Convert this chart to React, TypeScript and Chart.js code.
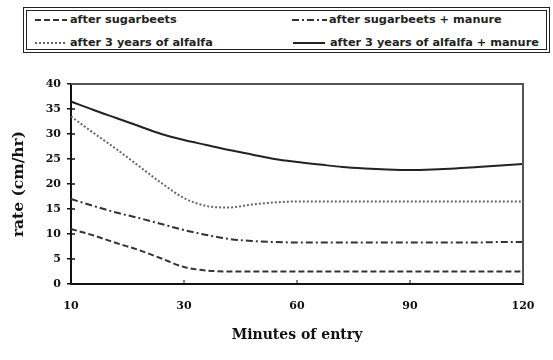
import { useEffect, useRef } from "react";
import { Chart, registerables } from "chart.js";

Chart.register(...registerables);

// Minutes of entry (category positions; majors labelled)
const minutes = [10, 14, 18, 22, 26, 30, 36, 42, 48, 54, 60, 66, 72, 78, 84, 90, 96, 102, 108, 114, 120];
const majorTicks = [10, 30, 60, 90, 120];

const seriesNames = [
  "after sugarbeets",
  "after sugarbeets + manure",
  "after 3 years of alfalfa",
  "after 3 years of alfalfa + manure",
];

const afterSugarbeets = [11, 9.7, 8.2, 6.8, 5.1, 3.4, 2.7, 2.5, 2.5, 2.5, 2.5, 2.5, 2.5, 2.5, 2.5, 2.5, 2.5, 2.5, 2.5, 2.5, 2.5];
const afterSugarbeetsManure = [17, 15.6, 14.3, 13.2, 12, 10.8, 9.8, 9.0, 8.6, 8.4, 8.3, 8.3, 8.3, 8.3, 8.3, 8.3, 8.3, 8.3, 8.3, 8.4, 8.4];
const afterAlfalfa = [33.5, 30.2, 27.0, 23.6, 20.2, 17.2, 15.6, 15.3, 15.9, 16.3, 16.5, 16.5, 16.5, 16.5, 16.5, 16.5, 16.5, 16.5, 16.5, 16.5, 16.5];
const afterAlfalfaManure = [36.5, 34.8, 33.2, 31.6, 30.0, 28.8, 27.8, 26.8, 25.9, 25.0, 24.4, 23.9, 23.4, 23.1, 22.9, 22.8, 22.9, 23.1, 23.4, 23.7, 24.0];

const yMin = 0;
const yMax = 40;
const yStep = 5;

const dashes: number[][] = [[6, 3], [7, 3, 2, 3], [2, 2], []];
const colors = ["#333", "#333", "#666", "#222"];

const framePlugin = {
  id: "frame",
  afterDraw(chart: any) {
    const { ctx, chartArea, scales } = chart;
    const { left, right, top, bottom } = chartArea;
    ctx.save();
    ctx.strokeStyle = "#555";
    ctx.lineWidth = 2;
    ctx.beginPath();
    ctx.moveTo(left, top);
    ctx.lineTo(right, top);
    ctx.lineTo(right, bottom);
    ctx.stroke();
    // inner y ticks
    ctx.strokeStyle = "#111";
    ctx.lineWidth = 1.5;
    for (let v = yMin + yStep; v < yMax; v += yStep) {
      const y = scales.y.getPixelForValue(v);
      ctx.beginPath();
      ctx.moveTo(left, y);
      ctx.lineTo(left + 4, y);
      ctx.stroke();
    }
    // inner x ticks
    ctx.lineWidth = 1;
    majorTicks.slice(1, -1).forEach((m) => {
      const idx = minutes.indexOf(m);
      const x = scales.x.getPixelForValue(idx);
      ctx.beginPath();
      ctx.moveTo(x, bottom);
      ctx.lineTo(x, bottom - 4);
      ctx.stroke();
    });
    ctx.restore();
  },
};

function LegendSample({ dash, color, width }: { dash: number[]; color: string; width: number }) {
  return (
    <svg width={width} height={6} style={{ display: "block" }}>
      <line
        x1={0}
        y1={3}
        x2={width}
        y2={3}
        stroke={color}
        strokeWidth={2}
        strokeDasharray={dash.length ? dash.join(" ") : undefined}
      />
    </svg>
  );
}

export default function App() {
  const canvasRef = useRef<HTMLCanvasElement | null>(null);

  useEffect(() => {
    if (!canvasRef.current) return;
    const data = [afterSugarbeets, afterSugarbeetsManure, afterAlfalfa, afterAlfalfaManure];
    const chart = new Chart(canvasRef.current, {
      type: "line",
      data: {
        labels: minutes.map(String),
        datasets: data.map((d, i) => ({
          label: seriesNames[i],
          data: d,
          borderColor: colors[i],
          borderWidth: 2,
          borderDash: dashes[i],
          pointRadius: 0,
          fill: false,
          cubicInterpolationMode: "monotone" as const,
        })),
      },
      options: {
        animation: false,
        responsive: false,
        devicePixelRatio: 1,
        layout: { padding: { top: 84, right: 30, left: 0, bottom: 0 } },
        plugins: { legend: { display: false }, tooltip: { enabled: false } },
        scales: {
          x: {
            type: "category",
            offset: false,
            grid: { display: true, drawOnChartArea: false, drawTicks: false },
            border: { display: true, color: "#111", width: 2 },
            ticks: {
              autoSkip: false,
              maxRotation: 0,
              padding: 16,
              color: "#111",
              font: { family: "DejaVu Serif", size: 11, weight: "bold" },
              callback: (_v: any, i: number) => (majorTicks.includes(minutes[i]) ? String(minutes[i]) : ""),
            },
            title: {
              display: true,
              text: "Minutes of entry",
              color: "#111",
              font: { family: "DejaVu Serif", size: 14, weight: "bold" },
              padding: { top: 0, bottom: 16 },
            },
            afterFit: (scale: any) => {
              scale.height = 76;
            },
          },
          y: {
            min: yMin,
            max: yMax,
            grid: { display: true, drawOnChartArea: false, tickLength: 4, color: "#111", lineWidth: 1.5 },
            border: { display: true, color: "#111", width: 2 },
            ticks: {
              stepSize: yStep,
              padding: 6,
              color: "#111",
              font: { family: "DejaVu Serif", size: 11, weight: "bold" },
            },
            title: {
              display: true,
              text: "rate (cm/hr)",
              color: "#111",
              font: { family: "DejaVu Serif", size: 15.5, weight: "bold" },
              padding: { top: 10, bottom: 0 },
            },
            afterFit: (scale: any) => {
              scale.width = 71;
            },
          },
        },
      },
      plugins: [framePlugin],
    });
    return () => chart.destroy();
  }, []);

  const textStyle: React.CSSProperties = {
    position: "absolute",
    fontFamily: "DejaVu Sans",
    fontWeight: "bold",
    fontSize: 11.3,
    color: "#222",
    lineHeight: "14px",
    whiteSpace: "nowrap",
  };

  const items = [
    { sx: 35, sw: 32, tx: 70, cy: 20 },
    { sx: 292, sw: 35, tx: 329, cy: 20 },
    { sx: 35, sw: 32, tx: 70, cy: 43 },
    { sx: 293, sw: 32, tx: 330, cy: 43 },
  ];

  return (
    <div style={{ position: "absolute", left: 0, top: 0, width: 553, height: 360, background: "#fff" }}>
      <canvas ref={canvasRef} width={553} height={360} style={{ position: "absolute", left: 0, top: 0 }} />
      <div
        style={{
          position: "absolute",
          left: 23,
          top: 7,
          width: 527,
          height: 46,
          boxSizing: "border-box",
          border: "4px double #222",
          background: "#fff",
        }}
      />
      {items.map((it, i) => (
        <div key={i}>
          <div style={{ position: "absolute", left: it.sx, top: it.cy - 3 }}>
            <LegendSample dash={dashes[i]} color={colors[i]} width={it.sw} />
          </div>
          <div style={{ ...textStyle, left: it.tx, top: it.cy - 7 }}>{seriesNames[i]}</div>
        </div>
      ))}
    </div>
  );
}
